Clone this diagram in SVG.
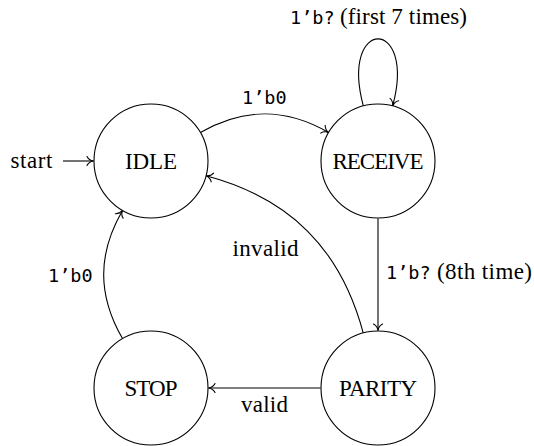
<svg xmlns="http://www.w3.org/2000/svg" width="534" height="446" viewBox="0 0 534 446">
  <style>
    .state { fill: #ffffff; stroke: #000000; stroke-width: 1.1; }
    .edge { fill: none; stroke: #000000; stroke-width: 1.1; marker-end: url(#tip); }
    .serif { font-family: "Liberation Serif", "Times New Roman", serif; font-size: 23px; fill: #000000; }
    .mono { font-family: "DejaVu Sans Mono", "Liberation Mono", monospace; font-size: 18.5px; fill: #000000; }
    .name { text-anchor: middle; }
  </style>
  <defs>
    <!-- curved "to" style arrow tip -->
    <marker id="tip" markerUnits="userSpaceOnUse" markerWidth="12" markerHeight="12" refX="0" refY="0" orient="auto" overflow="visible">
      <path d="M-6.5,-4.5 C-5.2,-1.8 -2.2,-0.4 0,0 C-2.2,0.4 -5.2,1.8 -6.5,4.5" fill="none" stroke="#000000" stroke-width="1.1" stroke-linecap="round"/>
    </marker>
  </defs>

  <!-- transitions -->
  <g id="edges">
    <path id="e-start" class="edge" d="M63,161 L93.5,161"/>
    <path id="e-idle-receive" class="edge" d="M200.4,132.5 C243.7,107.5 285.3,107.5 328.6,132.5"/>
    <path id="e-receive-loop" class="edge" d="M363.3,105.9 C339.4,16.6 416.7,16.6 392.7,105.9"/>
    <path id="e-receive-parity" class="edge" d="M378,218.5 L378,330.5"/>
    <path id="e-parity-idle" class="edge" d="M363.2,332.9 C340.7,248.9 290.1,198.3 206.1,175.8"/>
    <path id="e-stop-idle" class="edge" d="M122.5,338.6 C97.4,295.1 97.4,253.9 122.5,210.4"/>
    <path id="e-parity-stop" class="edge" d="M320.5,388 L208.5,388"/>

    <text class="serif" x="10.5" y="167.5" textLength="42">start</text>
    <text class="mono" x="242" y="104">1’b0</text>
    <text class="mono" x="290" y="24">1’b?</text>
    <text class="serif" x="340" y="24" textLength="127">(first 7 times)</text>
    <text class="mono" x="386" y="279">1’b?</text>
    <text class="serif" x="437" y="279" textLength="95">(8th time)</text>
    <text class="serif" x="232.5" y="255.5" textLength="66">invalid</text>
    <text class="mono" x="48" y="281.5">1’b0</text>
    <text class="serif" x="241" y="411.5" textLength="47">valid</text>
  </g>

  <!-- states -->
  <g id="idle">
    <circle class="state" cx="151" cy="161" r="57"/>
    <text class="serif name" x="151" y="169" textLength="52">IDLE</text>
  </g>
  <g id="receive">
    <circle class="state" cx="378" cy="161" r="57"/>
    <text class="serif name" x="378" y="169" textLength="91">RECEIVE</text>
  </g>
  <g id="parity">
    <circle class="state" cx="378" cy="388" r="57"/>
    <text class="serif name" x="378" y="396" textLength="78">PARITY</text>
  </g>
  <g id="stop">
    <circle class="state" cx="151" cy="388" r="57"/>
    <text class="serif name" x="151" y="396" textLength="53">STOP</text>
  </g>
</svg>
